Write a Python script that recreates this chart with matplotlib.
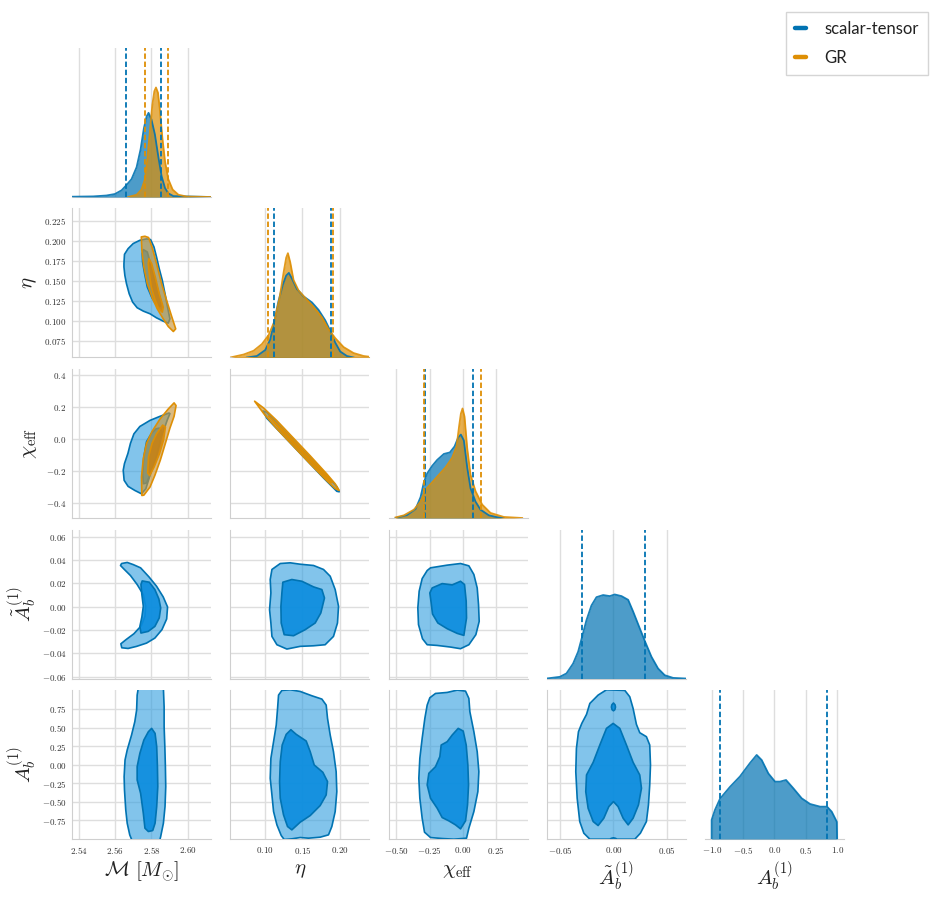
import matplotlib
matplotlib.use("Agg")
import matplotlib.pyplot as plt
from matplotlib.ticker import FixedLocator, FuncFormatter, NullFormatter
from matplotlib.lines import Line2D
from matplotlib.colors import to_rgba

plt.rcParams["mathtext.fontset"] = "cm"
plt.rcParams["font.family"] = ["DejaVu Sans"]

BLUE = "#0173B2"
ORANGE = "#DE8F05"

# ------------------------------------------------------------------ data
series_names = ["scalar-tensor", "GR"]
labels = [r"$\mathcal{M}\ [M_{\odot}]$", r"$\eta$", r"$\chi_{\rm eff}$",
          r"$\tilde{A}_b^{(1)}$", r"$A_b^{(1)}$"]

x_limits = [(2.5361, 2.6129), (0.053, 0.240), (-0.558, 0.485),
            (-0.0621, 0.0674), (-1.106, 1.11)]
y_limits = [None, (0.0543, 0.240), (-0.4965, 0.435),
            (-0.0615, 0.066), (-1.001, 1.005)]
x_ticks = [[2.54, 2.56, 2.58, 2.60], [0.10, 0.15, 0.20],
           [-0.50, -0.25, 0.00, 0.25], [-0.05, 0.00, 0.05],
           [-1.0, -0.5, 0.0, 0.5, 1.0]]
y_ticks = [None,
           [0.075, 0.100, 0.125, 0.150, 0.175, 0.200, 0.225],
           [-0.4, -0.2, 0.0, 0.2, 0.4],
           [-0.06, -0.04, -0.02, 0.00, 0.02, 0.04, 0.06],
           [-0.75, -0.50, -0.25, 0.00, 0.25, 0.50, 0.75]]
x_decimals = [2, 2, 2, 2, 1]
y_decimals = [None, 3, 1, 2, 2]

# 1D marginal densities (relative height)
m_st_x = [2.5361, 2.5478, 2.5551, 2.5598, 2.5635, 2.5662, 2.5690, 2.5718, 2.5740, 2.5758,
          2.5773, 2.5784, 2.5800, 2.5819, 2.5838, 2.5856, 2.5875, 2.5893, 2.5921, 2.6129]
m_st_d = [0.002, 0.004, 0.010, 0.020, 0.045, 0.080, 0.120, 0.200, 0.320, 0.460,
          0.540, 0.565, 0.520, 0.420, 0.270, 0.140, 0.060, 0.025, 0.006, 0.0]
m_gr_x = [2.5671, 2.5718, 2.5745, 2.5764, 2.5777, 2.5792, 2.5805, 2.5816, 2.5825, 2.5836,
          2.5847, 2.5860, 2.5875, 2.5893, 2.5917, 2.5949, 2.5995, 2.6129]
m_gr_d = [0.0, 0.015, 0.050, 0.120, 0.250, 0.450, 0.620, 0.710, 0.735, 0.700,
          0.580, 0.400, 0.240, 0.120, 0.050, 0.015, 0.003, 0.0]

eta_st_x = [0.0753, 0.0888, 0.1000, 0.1067, 0.1121, 0.1179, 0.1238, 0.1282, 0.1318, 0.1359,
            0.1426, 0.1516, 0.1628, 0.1717, 0.1807, 0.1874, 0.1942, 0.2009, 0.2099, 0.2188]
eta_st_d = [0.0, 0.010, 0.050, 0.120, 0.240, 0.380, 0.490, 0.550, 0.568, 0.530,
            0.460, 0.410, 0.370, 0.320, 0.250, 0.180, 0.100, 0.040, 0.010, 0.0]
eta_gr_x = [0.0529, 0.0709, 0.0843, 0.0955, 0.1045, 0.1121, 0.1193, 0.1247, 0.1282, 0.1305,
            0.1336, 0.1381, 0.1448, 0.1538, 0.1650, 0.1762, 0.1852, 0.1942, 0.2054, 0.2188,
            0.2323, 0.2403]
eta_gr_d = [0.0, 0.020, 0.045, 0.090, 0.150, 0.240, 0.400, 0.570, 0.670, 0.700,
            0.640, 0.520, 0.450, 0.400, 0.340, 0.270, 0.190, 0.130, 0.070, 0.030,
            0.010, 0.005]

chi_st_x = [-0.505, -0.4175, -0.355, -0.3175, -0.2925, -0.2675, -0.23, -0.1925, -0.1425,
            -0.0975, -0.0625, -0.035, -0.015, 0.0075, 0.0325, 0.0575, 0.095, 0.1325,
            0.195, 0.2575, 0.3075]
chi_st_d = [0.0, 0.020, 0.060, 0.140, 0.240, 0.300, 0.350, 0.390, 0.430,
            0.440, 0.480, 0.540, 0.560, 0.520, 0.340, 0.200, 0.110, 0.056,
            0.018, 0.005, 0.0]
chi_gr_x = [-0.505, -0.4425, -0.3675, -0.3175, -0.28, -0.23, -0.18, -0.13, -0.08, -0.0475,
            -0.0275, -0.015, -0.0025, 0.0125, 0.0325, 0.0575, 0.095, 0.145, 0.2075,
            0.3075, 0.445]
chi_gr_d = [0.004, 0.018, 0.056, 0.110, 0.190, 0.240, 0.290, 0.340, 0.405, 0.480,
            0.620, 0.700, 0.735, 0.680, 0.470, 0.290, 0.180, 0.090, 0.034,
            0.007, 0.0]

at_st_x = [-0.0624, -0.0500, -0.0438, -0.0376, -0.0329, -0.0292, -0.0252, -0.0205, -0.0158,
           -0.0096, -0.0034, 0.0012, 0.0075, 0.0137, 0.0183, 0.0245, 0.0295, 0.0354,
           0.0416, 0.0478, 0.0556, 0.0671]
at_st_d = [0.0, 0.011, 0.034, 0.100, 0.180, 0.280, 0.390, 0.490, 0.546,
           0.560, 0.553, 0.564, 0.553, 0.528, 0.450, 0.337, 0.247, 0.146,
           0.067, 0.022, 0.004, 0.0]

a_st_x = [-1.0, -1.0, -0.947, -0.867, -0.707, -0.548, -0.388, -0.282, -0.202, -0.096,
          0.011, 0.090, 0.186, 0.303, 0.436, 0.569, 0.729, 0.840, 0.915, 0.995, 1.0]
a_st_d = [0.0, 0.128, 0.195, 0.270, 0.350, 0.420, 0.510, 0.564, 0.530, 0.440,
          0.385, 0.385, 0.396, 0.340, 0.273, 0.235, 0.217, 0.217, 0.183, 0.116, 0.0]

# 90% credible bounds (dashed lines)
m_st_bounds = [2.5660, 2.5852]
m_gr_bounds = [2.5762, 2.5889]
eta_st_bounds = [0.1121, 0.1879]
eta_gr_bounds = [0.1036, 0.1915]
chi_st_bounds = [-0.285, 0.0775]
chi_gr_bounds = [-0.2925, 0.1325]
at_st_bounds = [-0.0292, 0.0295]
a_st_bounds = [-0.867, 0.840]

# 2D credible-region contours (data coordinates)
m_eta_st_outer = [(2.5648, 0.1713), (2.5651, 0.1829), (2.5671, 0.1900), (2.5699, 0.1963),
                  (2.5736, 0.2004), (2.5773, 0.2021), (2.5795, 0.2013), (2.5814, 0.1920),
                  (2.5828, 0.1796), (2.5843, 0.1650), (2.5860, 0.1504), (2.5875, 0.1337),
                  (2.5889, 0.1171), (2.5902, 0.1025), (2.5893, 0.0971), (2.5865, 0.0996),
                  (2.5828, 0.1037), (2.5792, 0.1088), (2.5755, 0.1121), (2.5721, 0.1163),
                  (2.5696, 0.1233), (2.5677, 0.1337), (2.5662, 0.1463), (2.5653, 0.1567),
                  (2.5648, 0.1671)]
m_eta_st_inner = [(2.5755, 0.1888), (2.5777, 0.1858), (2.5795, 0.1713), (2.5814, 0.1546),
                  (2.5834, 0.1400), (2.5854, 0.1233), (2.5847, 0.1179), (2.5825, 0.1204),
                  (2.5801, 0.1296), (2.5777, 0.1421), (2.5762, 0.1588), (2.5751, 0.1733),
                  (2.5749, 0.1838)]
m_eta_gr_outer = [(2.5744, 0.2046), (2.5764, 0.2054), (2.5784, 0.2038), (2.5803, 0.1921),
                  (2.5828, 0.1713), (2.5856, 0.1463), (2.5884, 0.1254), (2.5910, 0.1067),
                  (2.5934, 0.0900), (2.5921, 0.0867), (2.5893, 0.0929), (2.5865, 0.1025),
                  (2.5832, 0.1150), (2.5804, 0.1288), (2.5777, 0.1463), (2.5758, 0.1671),
                  (2.5747, 0.1879)]
m_eta_gr_inner = [(2.5786, 0.1775), (2.5801, 0.1713), (2.5821, 0.1546), (2.5843, 0.1338),
                  (2.5865, 0.1171), (2.5860, 0.1108), (2.5840, 0.1150), (2.5818, 0.1275),
                  (2.5799, 0.1421), (2.5788, 0.1588), (2.5782, 0.1713)]

m_chi_st_outer = [(2.5897, 0.1600), (2.5847, 0.1390), (2.5792, 0.1137), (2.5736, 0.0758),
                  (2.5703, 0.0295), (2.5684, -0.0295), (2.5670, -0.0926), (2.5651, -0.1558),
                  (2.5644, -0.1979), (2.5649, -0.2610), (2.5671, -0.2989), (2.5708, -0.3242),
                  (2.5745, -0.3452), (2.5769, -0.3137), (2.5792, -0.2295), (2.5814, -0.1347),
                  (2.5840, -0.0400), (2.5865, 0.0442), (2.5888, 0.1179), (2.5902, 0.1558)]
m_chi_st_inner = [(2.5843, 0.0653), (2.5858, 0.0442), (2.5847, -0.0295), (2.5825, -0.1242),
                  (2.5795, -0.2189), (2.5773, -0.2779), (2.5755, -0.2821), (2.5751, -0.2189),
                  (2.5758, -0.1137), (2.5773, -0.0189), (2.5801, 0.0337), (2.5825, 0.0610)]
m_chi_gr_outer = [(2.5747, -0.3558), (2.5745, -0.2400), (2.5755, -0.1242), (2.5773, -0.0295),
                  (2.5803, 0.0442), (2.5847, 0.1221), (2.5893, 0.1853), (2.5925, 0.2232),
                  (2.5936, 0.2063), (2.5925, 0.1389), (2.5902, 0.0653), (2.5877, -0.0295),
                  (2.5849, -0.1347), (2.5819, -0.2295), (2.5792, -0.3031), (2.5758, -0.3537)]
m_chi_gr_inner = [(2.5779, -0.2147), (2.5784, -0.1137), (2.5803, -0.0295), (2.5828, 0.0295),
                  (2.5862, 0.0842), (2.5877, 0.0716), (2.5867, -0.0084), (2.5845, -0.0926),
                  (2.5815, -0.1768), (2.5790, -0.2316)]

eta_chi_st_outer = [(0.0969, 0.1726), (0.1022, 0.1650), (0.1246, 0.0554), (0.1515, -0.0764),
                    (0.1784, -0.2082), (0.1963, -0.3002), (0.1995, -0.3326),
                    (0.1963, -0.3296), (0.1784, -0.2461), (0.1515, -0.1143), (0.1246, 0.0175),
                    (0.1022, 0.1271)]
eta_chi_st_inner = [(0.1134, 0.0968), (0.1291, 0.0269), (0.1560, -0.1048), (0.1784, -0.2145),
                    (0.1874, -0.2648), (0.1784, -0.2313), (0.1560, -0.1217), (0.1291, 0.0101)]
eta_chi_gr_outer = [(0.0857, 0.2337), (0.0978, 0.1911), (0.1157, 0.1118), (0.1381, 0.0021),
                    (0.1605, -0.1078), (0.1829, -0.2217), (0.1941, -0.2829), (0.1995, -0.3240),
                    (0.1941, -0.3124), (0.1829, -0.2638), (0.1605, -0.1583), (0.1381, -0.0484),
                    (0.1157, 0.0613), (0.0978, 0.1575)]
eta_chi_gr_inner = [(0.1045, 0.1415), (0.1246, 0.0512), (0.1560, -0.1027), (0.1829, -0.2343),
                    (0.1896, -0.2758), (0.1829, -0.2511), (0.1560, -0.1196), (0.1246, 0.0343)]

m_at_st_outer = [(2.5635, 0.0369), (2.5666, 0.0378), (2.5699, 0.0360), (2.5740, 0.0332),
                 (2.5786, 0.0255), (2.5828, 0.0175), (2.5865, 0.0083), (2.5889, -0.0003),
                 (2.5884, -0.0106), (2.5858, -0.0197), (2.5819, -0.0269), (2.5773, -0.0312),
                 (2.5718, -0.0340), (2.5671, -0.0358), (2.5636, -0.0352), (2.5631, -0.0318),
                 (2.5659, -0.0283), (2.5703, -0.0232), (2.5744, -0.0163), (2.5764, -0.0083),
                 (2.5768, 0.0003), (2.5755, 0.0103), (2.5721, 0.0189), (2.5684, 0.0266),
                 (2.5647, 0.0323), (2.5629, 0.0352)]
m_at_st_inner = [(2.5749, 0.0220), (2.5788, 0.0209), (2.5819, 0.0146), (2.5841, 0.0066),
                 (2.5851, -0.0011), (2.5843, -0.0097), (2.5819, -0.0169), (2.5782, -0.0212),
                 (2.5742, -0.0226), (2.5736, -0.0169), (2.5747, -0.0089), (2.5755, 0.0003),
                 (2.5747, 0.0103), (2.5742, 0.0189)]

eta_at_st_outer = [(0.1090, 0.0318), (0.1202, 0.0369), (0.1336, 0.0375), (0.1470, 0.0363),
                   (0.1650, 0.0352), (0.1784, 0.0318), (0.1874, 0.0260), (0.1941, 0.0146),
                   (0.1986, 0.0003), (0.1972, -0.0140), (0.1918, -0.0255), (0.1806, -0.0326),
                   (0.1650, -0.0335), (0.1470, -0.0340), (0.1291, -0.0363), (0.1157, -0.0326),
                   (0.1090, -0.0255), (0.1076, -0.0140), (0.1058, -0.0026), (0.1076, 0.0117),
                   (0.1067, 0.0232)]
eta_at_st_inner = [(0.1237, 0.0209), (0.1358, 0.0232), (0.1493, 0.0217), (0.1650, 0.0169),
                   (0.1762, 0.0146), (0.1797, 0.0074), (0.1748, -0.0054), (0.1672, -0.0140),
                   (0.1538, -0.0197), (0.1381, -0.0249), (0.1255, -0.0240), (0.1215, -0.0140),
                   (0.1211, 0.0003), (0.1224, 0.0117)]

chi_at_st_outer = [(-0.2428, 0.0332), (-0.1176, 0.0355), (-0.0175, 0.0369), (0.0451, 0.0349),
                   (0.0826, 0.0275), (0.1076, 0.0160), (0.1176, 0.0017), (0.1226, -0.0126),
                   (0.0976, -0.0240), (0.0451, -0.0326), (-0.0175, -0.0360), (-0.0926, -0.0346),
                   (-0.1927, -0.0332), (-0.2678, -0.0326), (-0.3029, -0.0275), (-0.3329, -0.0154),
                   (-0.3379, -0.0011), (-0.3279, 0.0132), (-0.3054, 0.0240), (-0.2678, 0.0309)]
chi_at_st_inner = [(-0.2303, 0.0160), (-0.1552, 0.0197), (-0.0801, 0.0186), (-0.0175, 0.0217),
                   (0.0125, 0.0189), (0.0250, 0.0046), (0.0275, -0.0097), (0.0075, -0.0246),
                   (-0.0426, -0.0229), (-0.1176, -0.0189), (-0.1877, -0.0140), (-0.2278, -0.0063),
                   (-0.2378, 0.0031), (-0.2478, 0.0117)]

m_a_st_outer = [(2.5727, 1.026), (2.5866, 1.026), (2.5870, 0.7795), (2.5870, 0.5107),
                (2.5874, 0.2419), (2.5877, -0.0269), (2.5879, -0.2957), (2.5875, -0.5645),
                (2.5866, -0.7885), (2.5851, -0.9677), (2.5844, -1.035), (2.5695, -1.035),
                (2.5680, -0.9453), (2.5666, -0.7885), (2.5658, -0.6093), (2.5651, -0.3405),
                (2.5649, -0.1613), (2.5654, 0.0627), (2.5666, 0.1971), (2.5690, 0.3987),
                (2.5708, 0.5779), (2.5718, 0.7347), (2.5721, 0.9363)]
m_a_st_inner = [(2.5801, 0.4883), (2.5820, 0.4211), (2.5829, 0.2419), (2.5833, -0.0269),
                (2.5835, -0.2957), (2.5829, -0.5645), (2.5820, -0.7885), (2.5807, -0.8870),
                (2.5783, -0.9005), (2.5764, -0.8557), (2.5755, -0.6541), (2.5740, -0.3853),
                (2.5721, -0.2061), (2.5721, -0.0269), (2.5736, 0.1523), (2.5758, 0.3315),
                (2.5783, 0.4435)]

eta_a_st_outer = [(0.1179, 0.9363), (0.1224, 0.9990), (0.1336, 1.0080), (0.1470, 0.9856),
                  (0.1627, 0.9274), (0.1762, 0.8826), (0.1820, 0.8019), (0.1838, 0.6227),
                  (0.1874, 0.3987), (0.1918, 0.1747), (0.1954, -0.0941), (0.1963, -0.3629),
                  (0.1941, -0.6317), (0.1896, -0.8333), (0.1851, -0.9453), (0.1739, -0.9766),
                  (0.1582, -0.9901), (0.1470, -0.9811), (0.1358, -0.9990), (0.1255, -1.0080),
                  (0.1215, -0.9542), (0.1157, -0.8109), (0.1112, -0.6317), (0.1090, -0.4077),
                  (0.1067, -0.1837), (0.1076, 0.0851), (0.1112, 0.3091), (0.1148, 0.5331),
                  (0.1166, 0.7571)]
eta_a_st_inner = [(0.1345, 0.4704), (0.1417, 0.4077), (0.1551, 0.3181), (0.1605, 0.1747),
                  (0.1659, -0.0045), (0.1775, -0.1030), (0.1838, -0.2285), (0.1820, -0.4077),
                  (0.1739, -0.5510), (0.1605, -0.6854), (0.1470, -0.7750), (0.1358, -0.8781),
                  (0.1300, -0.8333), (0.1246, -0.6765), (0.1202, -0.4525), (0.1193, -0.2285),
                  (0.1202, 0.0403), (0.1228, 0.2643), (0.1282, 0.4077)]

chi_a_st_outer = [(-0.2478, 0.9005), (-0.2052, 0.9587), (-0.1176, 0.9722), (-0.0426, 1.0035),
                  (0.0200, 0.9901), (0.0451, 0.8915), (0.0526, 0.7123), (0.0826, 0.4435),
                  (0.1076, 0.1747), (0.1201, -0.0941), (0.1126, -0.3629), (0.0826, -0.6317),
                  (0.0451, -0.8557), (0.0275, -0.9901), (-0.0676, -1.0035), (-0.1552, -0.9946),
                  (-0.2428, -0.9811), (-0.2878, -0.9094), (-0.3054, -0.7213), (-0.3229, -0.4525),
                  (-0.3304, -0.1837), (-0.3229, 0.0851), (-0.3054, 0.3539), (-0.2853, 0.6227),
                  (-0.2678, 0.8019)]
chi_a_st_inner = [(-0.0350, 0.4883), (0.0025, 0.4525), (0.0250, 0.2643), (0.0375, -0.0045),
                  (0.0426, -0.2733), (0.0350, -0.5421), (0.0200, -0.7571), (-0.0175, -0.8646),
                  (-0.0551, -0.8109), (-0.1051, -0.7571), (-0.1552, -0.7123), (-0.1927, -0.5869),
                  (-0.2428, -0.4525), (-0.2678, -0.2733), (-0.2553, -0.1165), (-0.2052, -0.0269),
                  (-0.1727, 0.1075), (-0.1627, 0.2643), (-0.1176, 0.3091), (-0.0801, 0.3987)]

at_a_st_outer = [(-0.0220, 0.8243), (-0.0143, 0.9363), (-0.0065, 1.0080), (0.0106, 0.9990),
                 (0.0152, 0.9139), (0.0183, 0.7571), (0.0214, 0.5421), (0.0245, 0.4301),
                 (0.0307, 0.3763), (0.0338, 0.2643), (0.0345, -0.0045), (0.0338, -0.2733),
                 (0.0326, -0.5421), (0.0307, -0.7661), (0.0251, -0.9229), (0.0199, -1.0035),
                 (-0.0220, -1.0035), (-0.0276, -0.9229), (-0.0314, -0.7661), (-0.0338, -0.4525),
                 (-0.0351, -0.0941), (-0.0345, 0.2195), (-0.0326, 0.4435), (-0.0295, 0.5555),
                 (-0.0251, 0.6765)]
at_a_st_inner = [(-0.0003, 0.5555), (0.0059, 0.4883), (0.0121, 0.2643), (0.0183, 0.0313),
                 (0.0245, -0.1389), (0.0261, -0.3181), (0.0233, -0.5421), (0.0183, -0.7213),
                 (0.0137, -0.8109), (0.0090, -0.7213), (0.0043, -0.5645), (0.0000, -0.4973),
                 (-0.0043, -0.5645), (-0.0090, -0.7213), (-0.0143, -0.8198), (-0.0189, -0.7661),
                 (-0.0236, -0.5869), (-0.0258, -0.3629), (-0.0251, -0.1389), (-0.0189, 0.0313),
                 (-0.0127, 0.2643), (-0.0065, 0.4883)]
at_a_st_island = [(0.0, 0.830), (0.0015, 0.805), (0.0019, 0.775), (0.0013, 0.740),
                  (0.0, 0.725), (-0.0013, 0.740), (-0.0019, 0.775), (-0.0015, 0.805)]
at_a_st_bottom = [(-0.0035, -1.02), (-0.0022, -0.993), (0.0, -0.985), (0.0022, -0.993),
                  (0.0035, -1.02)]

# ------------------------------------------------------------------ style
ST_OUTER = to_rgba("#2f9ddf", 0.6)
ST_INNER = to_rgba("#0a8cde", 0.9)
GR_OUTER = to_rgba("#c8963c", 0.65)
GR_INNER = to_rgba("#cd820f", 0.85)
GRID_C = "#dedede"
SPINE_C = "#cfcfcf"
TICK_C = "#333333"
LABEL_SIZE = 15

fig = plt.figure(figsize=(9.42, 9.0), dpi=100)
FW, FH = 942.0, 900.0
col_left = [72, 230.3, 388.5, 546.8, 705]
row_top = [48, 208.5, 369, 529.5, 690]
AW, AH = 139, 149


def fmt(d):
    return FuncFormatter(lambda v, p: "$%.*f$" % (d, v))


def region(ax, pts, face, edge):
    xs = [p[0] for p in pts]
    ys = [p[1] for p in pts]
    ax.fill(xs, ys, facecolor=face, edgecolor=edge, linewidth=1.2,
            joinstyle="round", zorder=3)


def density(ax, xs, ds, color):
    ax.fill_between(xs, 0, ds, color=color, alpha=0.7, linewidth=0, zorder=3)
    ax.plot(xs, ds, color=color, linewidth=1.3, alpha=0.9, zorder=4)


def bounds(ax, vals, color):
    for v in vals:
        ax.axvline(v, color=color, linestyle=(0, (3.0, 1.5)), linewidth=1.3, zorder=5)


axes = {}
for i in range(5):
    for j in range(i + 1):
        ax = fig.add_axes([col_left[j] / FW, 1 - (row_top[i] + AH) / FH, AW / FW, AH / FH])
        axes[(i, j)] = ax
        ax.set_axisbelow(True)
        ax.set_xlim(*x_limits[j])
        ax.xaxis.set_major_locator(FixedLocator(x_ticks[j]))
        ax.tick_params(length=0, labelsize=6.5, colors=TICK_C, pad=4)
        if i == 4:
            ax.xaxis.set_major_formatter(fmt(x_decimals[j]))
            ax.set_xlabel(labels[j], fontsize=LABEL_SIZE, color="#222222", labelpad=3)
        else:
            ax.xaxis.set_major_formatter(NullFormatter())
        for s in ["top", "right"]:
            ax.spines[s].set_visible(False)
        ax.spines["bottom"].set_color(SPINE_C)
        ax.spines["left"].set_color(SPINE_C)
        if i == j:
            ax.spines["left"].set_visible(False)
            ax.set_yticks([])
            ax.set_ylim(0, 1)
            ax.grid(True, axis="x", color=GRID_C, linewidth=1.0)
        else:
            ax.set_ylim(*y_limits[i])
            ax.yaxis.set_major_locator(FixedLocator(y_ticks[i]))
            ax.grid(True, color=GRID_C, linewidth=1.0)
            if j == 0:
                ax.yaxis.set_major_formatter(fmt(y_decimals[i]))
                ax.set_ylabel(labels[i], fontsize=LABEL_SIZE, color="#222222")
                ax.yaxis.set_label_coords(-0.235, 0.5)
            else:
                ax.yaxis.set_major_formatter(NullFormatter())

# diagonal
density(axes[(0, 0)], m_st_x, m_st_d, BLUE)
density(axes[(0, 0)], m_gr_x, m_gr_d, ORANGE)
bounds(axes[(0, 0)], m_st_bounds, BLUE)
bounds(axes[(0, 0)], m_gr_bounds, ORANGE)

density(axes[(1, 1)], eta_st_x, eta_st_d, BLUE)
density(axes[(1, 1)], eta_gr_x, eta_gr_d, ORANGE)
bounds(axes[(1, 1)], eta_st_bounds, BLUE)
bounds(axes[(1, 1)], eta_gr_bounds, ORANGE)

density(axes[(2, 2)], chi_st_x, chi_st_d, BLUE)
density(axes[(2, 2)], chi_gr_x, chi_gr_d, ORANGE)
bounds(axes[(2, 2)], chi_st_bounds, BLUE)
bounds(axes[(2, 2)], chi_gr_bounds, ORANGE)

density(axes[(3, 3)], at_st_x, at_st_d, BLUE)
bounds(axes[(3, 3)], at_st_bounds, BLUE)

density(axes[(4, 4)], a_st_x, a_st_d, BLUE)
bounds(axes[(4, 4)], a_st_bounds, BLUE)

# off-diagonal
two_series = [((1, 0), m_eta_st_outer, m_eta_st_inner, m_eta_gr_outer, m_eta_gr_inner),
              ((2, 0), m_chi_st_outer, m_chi_st_inner, m_chi_gr_outer, m_chi_gr_inner),
              ((2, 1), eta_chi_st_outer, eta_chi_st_inner, eta_chi_gr_outer, eta_chi_gr_inner)]
for key, so, si, go, gi in two_series:
    ax = axes[key]
    region(ax, so, ST_OUTER, BLUE)
    region(ax, si, ST_INNER, BLUE)
    region(ax, go, GR_OUTER, ORANGE)
    region(ax, gi, GR_INNER, ORANGE)

one_series = [((3, 0), m_at_st_outer, [m_at_st_inner]),
              ((3, 1), eta_at_st_outer, [eta_at_st_inner]),
              ((3, 2), chi_at_st_outer, [chi_at_st_inner]),
              ((4, 0), m_a_st_outer, [m_a_st_inner]),
              ((4, 1), eta_a_st_outer, [eta_a_st_inner]),
              ((4, 2), chi_a_st_outer, [chi_a_st_inner]),
              ((4, 3), at_a_st_outer, [at_a_st_inner, at_a_st_island, at_a_st_bottom])]
for key, so, inners in one_series:
    ax = axes[key]
    region(ax, so, ST_OUTER, BLUE)
    for si in inners:
        region(ax, si, ST_INNER, BLUE)

# legend
handles = [Line2D([], [], color=BLUE, linewidth=3.2, solid_capstyle="round"),
           Line2D([], [], color=ORANGE, linewidth=3.2, solid_capstyle="round")]
leg = fig.legend(handles, series_names, loc="upper right",
                 bbox_to_anchor=(928 / FW, 1 - 12 / FH), borderaxespad=0,
                 prop={"family": "Lato", "size": 12}, handlelength=0.65,
                 handletextpad=1.1, borderpad=0.55, labelspacing=0.75,
                 frameon=True, fancybox=False, edgecolor="#d5d5d5", framealpha=1)
leg.get_frame().set_linewidth(1.0)
for t in leg.get_texts():
    t.set_color("#222222")

fig.savefig("out.png", dpi=100)
